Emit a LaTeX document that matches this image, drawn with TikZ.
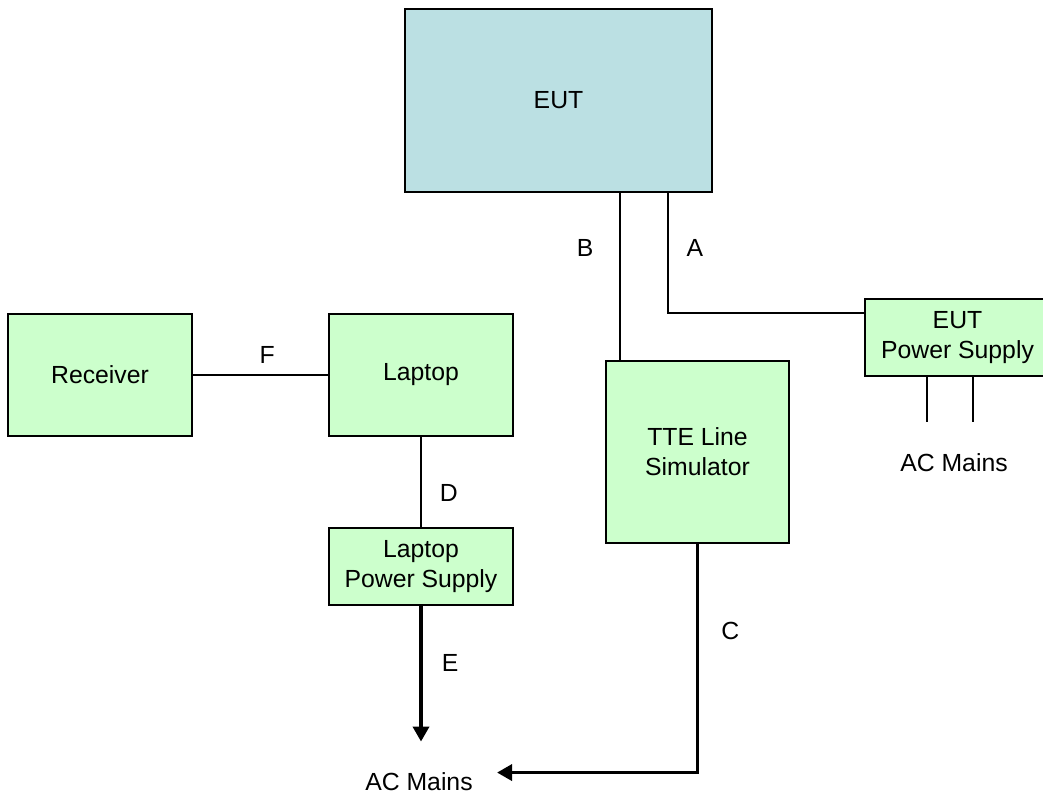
\documentclass[tikz,border=0pt]{standalone}
\usepackage{fontspec}
\setmainfont{Liberation Sans}
\usetikzlibrary{arrows.meta}
\usetikzlibrary{calc}

\definecolor{eutblue}{RGB}{187,224,227}
\definecolor{boxgreen}{RGB}{204,255,204}

\begin{document}
\begin{tikzpicture}[x=0.02cm, y=-0.02cm,
		font=\fontsize{14.1}{17}\selectfont,
		unit/.style={draw, line width=1pt, fill=boxgreen, inner sep=0pt, align=center},
		wire/.style={line width=1pt},
		mains/.style={line width=2pt, -{Triangle[length=0.3cm,width=0.32cm]}},
		lbl/.style={inner sep=0pt}]
		\useasboundingbox (0,0) rectangle (1043,797);
		%\draw[red] (0,0) rectangle (1043,797);
		\node[unit, fill=eutblue, minimum width=6.14cm, minimum height=3.66cm] (eut) at (558.5,100.5) {EUT};
		\node[unit, minimum width=3.68cm, minimum height=2.44cm] (rx) at (100,375) {Receiver};
		\node[unit, minimum width=3.68cm, minimum height=2.44cm] (lap) at (421,375) {Laptop};
		\node[unit, minimum width=3.68cm, minimum height=1.54cm] (lps) at (421,566.5) {Laptop\\Power Supply};
		\node[unit, minimum width=3.66cm, minimum height=3.64cm] (tte) at (697.5,452) {TTE Line\\Simulator};
		\node[unit, minimum width=3.70cm, minimum height=1.54cm] (eps) at (957.5,337.5) {EUT\\Power Supply};
		\node[lbl] (acl) at (419,782) {AC Mains};
		\node[lbl] (acr) at (954,463) {AC Mains};

		\path[wire]
		(rx) edge node[lbl, pos=0.55, above=0.22cm]{F} (lap)
		(lap) edge node[lbl, pos=0.62, right=0.36cm]{D} (lps);
		\draw[wire] ([xshift=0.3cm]tte.north west |- eut.south) -- node[lbl, pos=0.33, left=0.52cm]{B} ([xshift=0.3cm]tte.north west);
		\draw[wire] ([xshift=-0.9cm]eut.south east) |- node[lbl, pos=0.23, right=0.36cm]{A} ([yshift=-0.3cm]eps.north west);
		\draw[wire] ([xshift=-0.61cm]eps.south) -- ([xshift=-0.61cm,yshift=0.64cm]eps.south |- acr.north);
		\draw[wire] ([xshift=0.31cm]eps.south) -- ([xshift=0.31cm,yshift=0.64cm]eps.south |- acr.north);
		%mains feeds
		\draw[mains] (lps.south) -- node[lbl, pos=0.42, right=0.38cm]{E} ([yshift=0.62cm]lps.south |- acl.north);
		\draw[mains] (tte.south) |- node[lbl, pos=0.19, right=0.44cm]{C} ([xshift=0.48cm]acl.north east);
\end{tikzpicture}
\end{document}
